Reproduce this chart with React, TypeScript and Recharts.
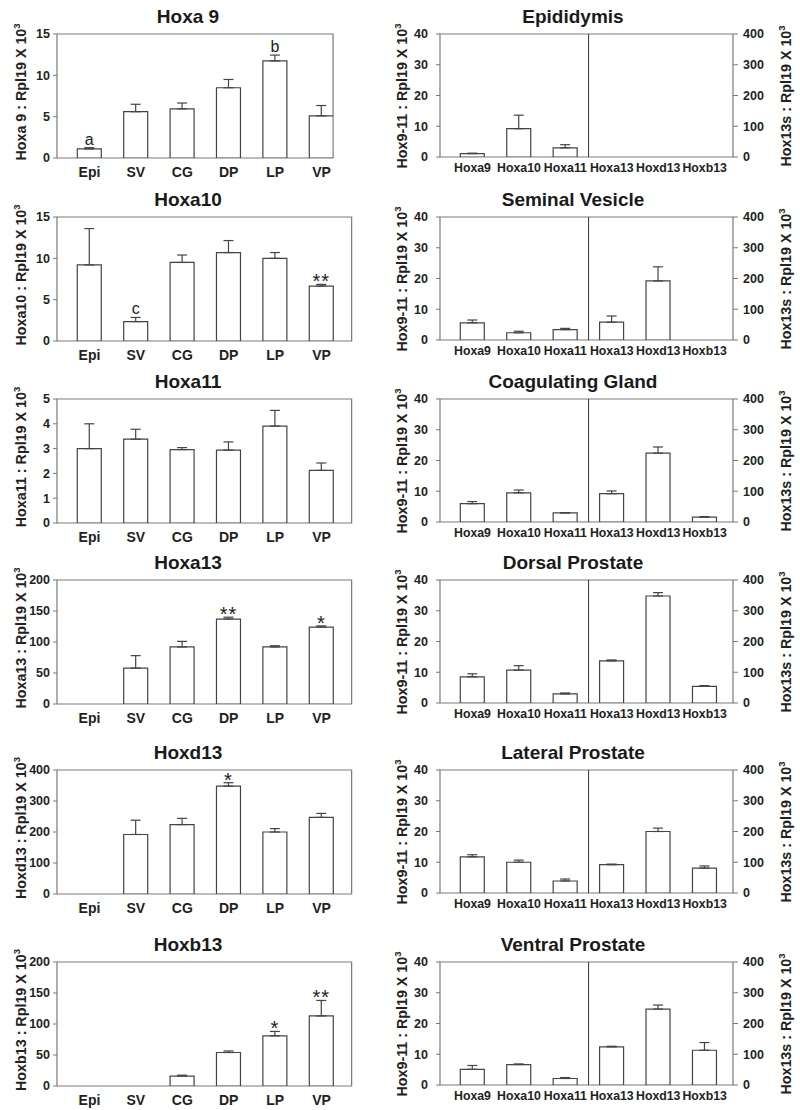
import React from 'react';
import { BarChart, Bar, XAxis, YAxis, ErrorBar, LabelList, ReferenceArea, ReferenceLine } from 'recharts';

// Hox expression in mouse accessory sex organs: left column per gene, right column per tissue.
const TISSUES = ['Epi', 'SV', 'CG', 'DP', 'LP', 'VP'];
const TISSUE_TITLES = ['Epididymis', 'Seminal Vesicle', 'Coagulating Gland', 'Dorsal Prostate', 'Lateral Prostate', 'Ventral Prostate'];
const GENES = ['Hoxa9', 'Hoxa10', 'Hoxa11', 'Hoxa13', 'Hoxd13', 'Hoxb13'];

const hoxa9 = [1.1, 5.6, 5.95, 8.5, 11.75, 5.1];
const hoxa9Err = [0.15, 0.9, 0.7, 1.0, 0.7, 1.25];
const hoxa9Marks = ['a', '', '', '', 'b', ''];

const hoxa10 = [9.2, 2.35, 9.5, 10.7, 10.0, 6.65];
const hoxa10Err = [4.4, 0.5, 0.9, 1.45, 0.7, 0.2];
const hoxa10Marks = ['', 'c', '', '', '', '**'];

const hoxa11 = [3.0, 3.38, 2.96, 2.94, 3.91, 2.12];
const hoxa11Err = [1.0, 0.4, 0.08, 0.33, 0.63, 0.3];
const hoxa11Marks = ['', '', '', '', '', ''];

const hoxa13 = [null, 58, 92, 137, 92, 124];
const hoxa13Err = [null, 20, 9, 3, 2, 2];
const hoxa13Marks = ['', '', '', '**', '', '*'];

const hoxd13 = [null, 192, 224, 348, 200, 247];
const hoxd13Err = [null, 46, 20, 11, 11, 13];
const hoxd13Marks = ['', '', '', '*', '', ''];

const hoxb13 = [null, null, 16, 54, 81, 113];
const hoxb13Err = [null, null, 1.5, 2.5, 7, 25];
const hoxb13Marks = ['', '', '', '', '*', '**'];

const GENE_PANELS = [
  { title: 'Hoxa 9', yLabel: 'Hoxa 9 : Rpl19 X 10', max: 15, ticks: [0, 5, 10, 15], values: hoxa9, errs: hoxa9Err, marks: hoxa9Marks },
  { title: 'Hoxa10', yLabel: 'Hoxa10 : Rpl19 X 10', max: 15, ticks: [0, 5, 10, 15], values: hoxa10, errs: hoxa10Err, marks: hoxa10Marks },
  { title: 'Hoxa11', yLabel: 'Hoxa11 : Rpl19 X 10', max: 5, ticks: [0, 1, 2, 3, 4, 5], values: hoxa11, errs: hoxa11Err, marks: hoxa11Marks },
  { title: 'Hoxa13', yLabel: 'Hoxa13 : Rpl19 X 10', max: 200, ticks: [0, 50, 100, 150, 200], values: hoxa13, errs: hoxa13Err, marks: hoxa13Marks },
  { title: 'Hoxd13', yLabel: 'Hoxd13 : Rpl19 X 10', max: 400, ticks: [0, 100, 200, 300, 400], values: hoxd13, errs: hoxd13Err, marks: hoxd13Marks },
  { title: 'Hoxb13', yLabel: 'Hoxb13 : Rpl19 X 10', max: 200, ticks: [0, 50, 100, 150, 200], values: hoxb13, errs: hoxb13Err, marks: hoxb13Marks },
];

const LEFT_TICKS = [0, 10, 20, 30, 40];
const RIGHT_TICKS = [0, 100, 200, 300, 400];
const X_TICKS = [0, 1, 2, 3, 4, 5];

const F = '"Liberation Sans", Arial, Helvetica, sans-serif';
const BOX = '#7a7a7a';
const BAR = '#444';
const TXT = '#222';
const ROW_TOPS = [34, 217, 399, 580, 770, 962];
const PLOT_H = 124;
const STEP = 46.4;
const X0 = -0.7;

const yTick = { fill: TXT, fontSize: 12.5, fontWeight: 700, fontFamily: F };

function Title({ text, cx, cy }: { text: string; cx: number; cy: number }) {
  return (
    <div style={{ position: 'absolute', left: cx - 150, top: cy - 9.5, width: 300, textAlign: 'center', fontSize: 19, lineHeight: '19px', fontWeight: 700, color: '#1a1a1a', whiteSpace: 'nowrap' }}>
      {text}
    </div>
  );
}

function YLabel({ text, cx, cy }: { text: string; cx: number; cy: number }) {
  return (
    <div style={{ position: 'absolute', left: cx, top: cy, transform: 'translate(-50%, -50%) rotate(-90deg)', fontSize: 14.3, lineHeight: '15px', fontWeight: 700, color: TXT, whiteSpace: 'nowrap' }}>
      {text}
      <span style={{ fontSize: 9.5, position: 'relative', top: -6 }}>3</span>
    </div>
  );
}

function Mark(props: any) {
  const { x, y, width, value } = props;
  if (!value) return null;
  const star = String(value).includes('*');
  return (
    <text x={Number(x) + Number(width) / 2} y={star ? Number(y) + 4 : Number(y) - 3} textAnchor="middle" fill={TXT}
      fontFamily={F} fontSize={star ? 20 : 16} letterSpacing={star ? 1 : 0}>
      {value}
    </text>
  );
}

function GenePanel({ row }: { row: number }) {
  const g = GENE_PANELS[row];
  const top = ROW_TOPS[row];
  const xMax = row === 0 ? 5.25 : 5.65;
  const plotRight = 57 + (xMax - X0) * STEP;
  const data = TISSUES.map((name, i) => {
    const v = g.values[i];
    const e = g.errs[i];
    const ok = v != null && e != null;
    return { i, name, v, err: ok ? [0, e] : null, top: ok ? v + e : null, mark: g.marks[i] };
  });
  return (
    <>
      <div style={{ position: 'absolute', left: 0, top: top - 34 }}>
        <BarChart width={400} height={190} data={data} margin={{ top: 34, right: 400 - plotRight, bottom: 0, left: 0 }}>
          <XAxis xAxisId="a" type="number" dataKey="i" domain={[X0, xMax]} allowDataOverflow ticks={X_TICKS} interval={0}
            tickFormatter={(i: number) => TISSUES[i]} axisLine={false} tickLine={false} tickSize={4} tickMargin={5} height={32}
            tick={{ fill: TXT, fontSize: 14, fontWeight: 700, fontFamily: F }} />
          <XAxis xAxisId="zlab" type="number" dataKey="i" domain={[X0, xMax]} allowDataOverflow hide />
          <YAxis yAxisId="y" domain={[0, g.max]} allowDataOverflow ticks={g.ticks} interval={0} width={57} axisLine={false}
            tickLine={{ stroke: BOX }} tickSize={4} tickMargin={3} tick={yTick} />
          <ReferenceArea xAxisId="a" yAxisId="y" x1={X0} x2={xMax} y1={0} y2={g.max} fill="none" stroke={BOX} strokeWidth={1.2} />
          <Bar xAxisId="a" yAxisId="y" dataKey="v" barSize={24} fill="#fff" stroke={BAR} strokeWidth={1.2} isAnimationActive={false}>
            <ErrorBar dataKey="err" width={5} stroke={BAR} strokeWidth={1.2} />
          </Bar>
          <Bar xAxisId="zlab" yAxisId="y" dataKey="top" barSize={24} fill="none" stroke="none" isAnimationActive={false}>
            <LabelList dataKey="mark" content={Mark} />
          </Bar>
        </BarChart>
      </div>
      <Title text={g.title} cx={188} cy={top - 18} />
      <YLabel text={g.yLabel} cx={22} cy={top + PLOT_H / 2 - 4} />
    </>
  );
}

function TissuePanel({ row }: { row: number }) {
  const top = ROW_TOPS[row];
  const xMax = 5.61;
  const data = GENES.map((name, gi) => {
    const p = GENE_PANELS[gi];
    const v = p.values[row];
    const e = p.errs[row];
    const ok = v != null && e != null;
    const low = gi < 3;
    return {
      i: gi,
      name,
      lo: low && ok ? v : null,
      loErr: low && ok ? [0, e] : null,
      hi: !low && ok ? v : null,
      hiErr: !low && ok ? [0, e] : null,
    };
  });
  return (
    <>
      <div style={{ position: 'absolute', left: 400, top: top - 34 }}>
        <BarChart width={400} height={190} data={data} margin={{ top: 34, right: 0, bottom: 0, left: 0 }}>
          <XAxis xAxisId="a" type="number" dataKey="i" domain={[X0, xMax]} allowDataOverflow ticks={X_TICKS} interval={0}
            tickFormatter={(i: number) => GENES[i]} axisLine={false} tickLine={false} tickSize={2} tickMargin={4} height={33}
            tick={{ fill: TXT, fontSize: 12.3, fontWeight: 700, fontFamily: F }} />
          <XAxis xAxisId="b" type="number" dataKey="i" domain={[X0, xMax]} allowDataOverflow hide />
          <YAxis yAxisId="l" domain={[0, 40]} allowDataOverflow ticks={LEFT_TICKS} interval={0} width={40} axisLine={false}
            tickLine={{ stroke: BOX }} tickSize={4} tickMargin={8} tick={yTick} />
          <YAxis yAxisId="r" orientation="right" domain={[0, 400]} allowDataOverflow ticks={RIGHT_TICKS} interval={0} width={67} axisLine={false}
            tickLine={{ stroke: BOX }} tickSize={5} tickMargin={5} tick={yTick} />
          <ReferenceArea xAxisId="a" yAxisId="l" x1={X0} x2={xMax} y1={0} y2={40} fill="none" stroke={BOX} strokeWidth={1.2} />
          <ReferenceLine xAxisId="a" yAxisId="l" x={2.5} stroke="#333" strokeWidth={1} />
          <Bar xAxisId="a" yAxisId="l" dataKey="lo" barSize={24} fill="#fff" stroke={BAR} strokeWidth={1.2} isAnimationActive={false}>
            <ErrorBar dataKey="loErr" width={5} stroke={BAR} strokeWidth={1.2} />
          </Bar>
          <Bar xAxisId="b" yAxisId="r" dataKey="hi" barSize={24} fill="#fff" stroke={BAR} strokeWidth={1.2} isAnimationActive={false}>
            <ErrorBar dataKey="hiErr" width={5} stroke={BAR} strokeWidth={1.2} />
          </Bar>
        </BarChart>
      </div>
      <Title text={TISSUE_TITLES[row]} cx={573} cy={top - 18} />
      <YLabel text="Hox9-11 : Rpl19 X 10" cx={403} cy={top + PLOT_H / 2} />
      <YLabel text="Hox13s : Rpl19 X 10" cx={787} cy={top + PLOT_H / 2} />
    </>
  );
}

export default function App() {
  return (
    <div style={{ position: 'absolute', left: 0, top: 0, width: 800, height: 1110, background: '#fff', fontFamily: F, overflow: 'hidden' }}>
      {GENE_PANELS.map((_, r) => (
        <GenePanel key={`g${r}`} row={r} />
      ))}
      {TISSUE_TITLES.map((_, r) => (
        <TissuePanel key={`t${r}`} row={r} />
      ))}
    </div>
  );
}
